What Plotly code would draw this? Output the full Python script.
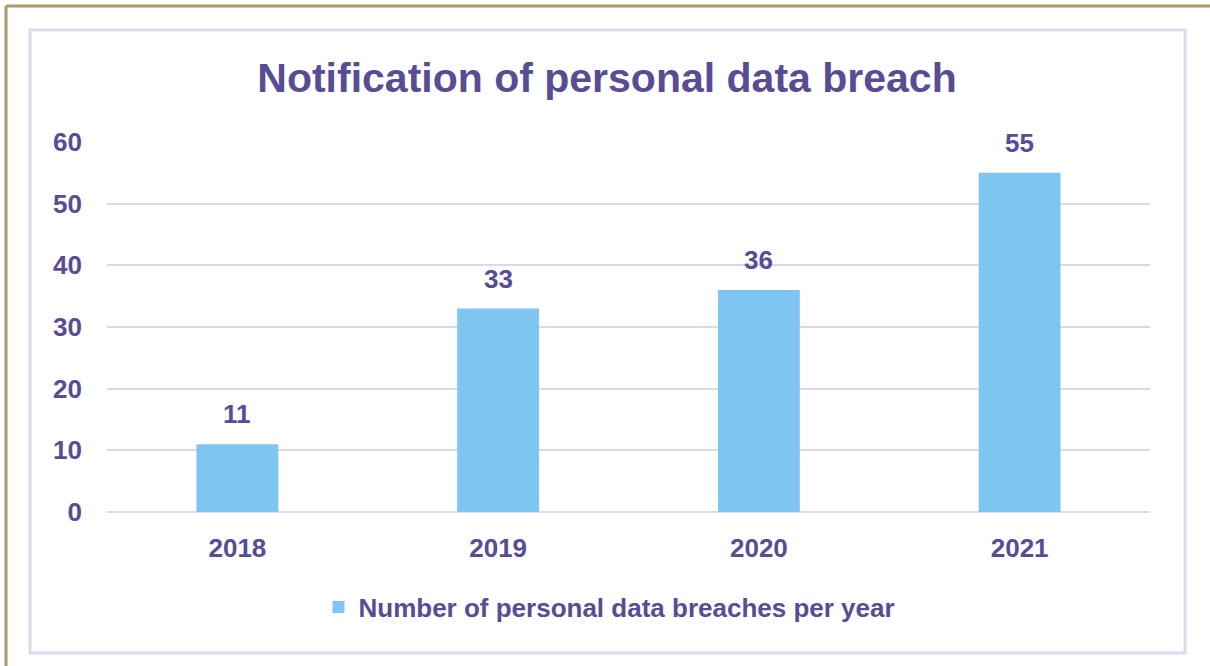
import plotly.graph_objects as go

years = ["2018", "2019", "2020", "2021"]
breaches = [11, 33, 36, 55]
series_name = "Number of personal data breaches per year"
title_text = "Notification of personal data breach"
y_ticks = [0, 10, 20, 30, 40, 50, 60]

TXT = "#584C94"
BAR = "#7EC5F2"
GRID = "#D9D8EC"
FONT = "Liberation Sans, Arial, sans-serif"

W, H = 1210, 666
L, R, T, B = 107, 60, 142, 154
pw, ph = W - L - R, H - T - B

def px(x):
    return (x - L) / pw

def py(y):
    return (H - B - y) / ph

fig = go.Figure()
fig.add_trace(go.Bar(
    x=years, y=breaches, name=series_name,
    marker=dict(color=BAR, line=dict(width=0)),
    width=0.314,
))

# data labels: category index positions on the category axis
for i, v in enumerate(breaches):
    fig.add_annotation(x=i, y=v, text=str(v), showarrow=False,
                       yanchor="bottom", yshift=13,
                       font=dict(family=FONT, size=26, color=TXT, weight="bold"))

shapes = [
    # outer olive border (top and left)
    dict(type="line", xref="paper", yref="paper", x0=px(6), x1=px(1212), y0=py(6), y1=py(6),
         line=dict(color="#A99B6B", width=3), layer="above"),
    dict(type="line", xref="paper", yref="paper", x0=px(6), x1=px(6), y0=py(6), y1=py(668),
         line=dict(color="#A99B6B", width=3), layer="above"),
    # inner lavender border
    dict(type="rect", xref="paper", yref="paper", x0=px(30), x1=px(1185), y0=py(30), y1=py(653),
         line=dict(color="#DCDAEF", width=3), layer="below"),
]

fig.update_layout(
    width=W, height=H,
    margin=dict(l=L, r=R, t=T, b=B),
    paper_bgcolor="white", plot_bgcolor="white",
    font=dict(family=FONT, color=TXT),
    title=dict(text=title_text, x=607 / W, xanchor="center", y=1 - 78 / H, yanchor="middle",
               yref="container", font=dict(family=FONT, size=41, color=TXT, weight="bold")),
    bargap=0.686,
    showlegend=True,
    legend=dict(orientation="h", x=0.5 - 19 / pw, xanchor="center", y=py(607), yanchor="middle",
                font=dict(family=FONT, size=26, color=TXT, weight="bold"), itemwidth=30),
    xaxis=dict(type="category", range=[-0.5, len(years) - 0.5], showgrid=False, showline=False, ticks="",
               tickfont=dict(family=FONT, size=26, color=TXT, weight="bold"),
               ticklabelstandoff=18),
    yaxis=dict(range=[0, 60], tickvals=y_ticks, showgrid=True, gridcolor=GRID, gridwidth=2,
               zeroline=True, zerolinecolor=GRID, zerolinewidth=2, showline=False, ticks="",
               tickfont=dict(family=FONT, size=26, color=TXT, weight="bold"), ticklabelstandoff=24),
    shapes=shapes,
)

fig.write_html("out.html", config={"displayModeBar": False},
               post_script="document.body.style.margin='0';document.body.style.overflow='hidden';")
